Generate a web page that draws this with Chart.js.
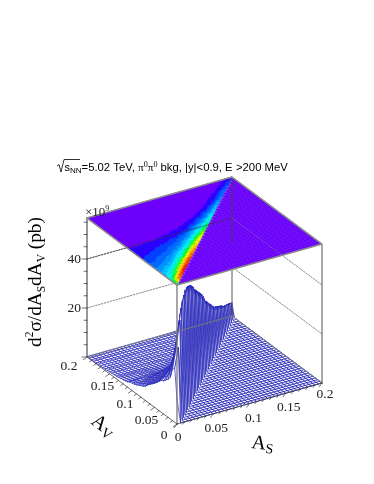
<!DOCTYPE html>
<html><head><meta charset="utf-8">
<style>html,body{margin:0;padding:0;background:#fff}#w{width:374px;height:484px}canvas{display:block}</style>
<script src="https://cdn.jsdelivr.net/npm/chart.js@4"></script>
</head><body><div id="w"><canvas id="c" width="374" height="484"></canvas></div>
<script>
const asTicks=[0,0.05,0.1,0.15,0.2];
const avTicks=[0,0.05,0.1,0.15,0.2];
const asTickLabels=['0','0.05','0.1','0.15','0.2'];
const avTickLabels=['0','0.05','0.1','0.15','0.2'];
const zTicks=[20,40];
const zTickLabels=['20','40'];
const binStep=0.005;
const binCount=40;
const zTop=56.7;
const bandHues=[266,250,224,214,204,194,184,174,158,135,105,80,62,52,42,32,22,12,4,0];
// each row: Av = rowIndex*binStep; values start at As=Av and walk toward As=0 (units of 1e9 pb)
const zRows=[
[10],
[30,22],
[40,29,21],
[44,34,24,17],
[46,37,27,20,15.5],
[47,39,29,22,17,14.5],
[48,40,30,23,18,15,13.5],
[48,40,31,24,19,16,14,13],
[47.5,40,31,24,19,16,14,12.8,12],
[46.5,39,31,24,19,16,13.8,12.4,11.4,10.8],
[45.5,38,30,24,19,15.5,13.4,12,11,10.4,9.8],
[44,37,30,24,19,15.5,13.2,11.6,10.6,9.9,9.3,8.9],
[42.5,36,29,23,18.5,15,12.8,11.2,10.2,9.4,8.8,8.3,8],
[40.5,34.5,28,22.5,18,14.7,12.4,10.9,9.8,9,8.4,7.9,7.5,7.1],
[39,33,27,22,17.5,14.3,12,10.5,9.4,8.6,8,7.5,7,6.6,5.8],
[37.5,32,26,21,17,13.8,11.6,10.1,9,8.2,7.6,7.1,6.6,6.2,5.6,5.2],
[36,30.5,25,20,16,13,11,9.6,8.6,7.8,7.2,6.7,6.3,5.9,5.4,5,4.7],
[34.5,29,24,19,15.5,12.6,10.6,9.2,8.2,7.4,6.8,6.3,5.9,5.5,5.1,4.7,4.4,4.2],
[33,27.5,23,18,14.5,12,10,8.7,7.8,7,6.4,6,5.6,5.2,4.8,4.4,4.1,3.9,3.7],
[31,26,21.5,17,13.8,11.3,9.5,8.2,7.3,6.6,6,5.5,5.1,4.7,4.3,4,3.7,3.5,3.4,3.3],
[29,24.5,20,16,13,10.6,9,7.7,6.8,6.1,5.4,4.9,4.4,4,3.7,3.5,3.3,3.2,3.1,3,3],
[27,22.5,18.5,15,12,9.6,7.9,6.6,5.6,4.8,4.2,3.8,3.5,3.3,3.1,3,2.9,2.9,2.9,2.8,2.8,2.8],
[25.5,21,17,13.5,10.8,8.6,7,5.8,4.8,4.1,3.6,3.2,2.9,2.7,2.6,2.5,2.4,2.4,2.3,2.3,2.2,2.2,2.2],
[24,19.5,15.5,12.3,9.7,7.6,6,4.8,3.9,3.3,2.9,2.6,2.4,2.3,2.2,2.1,2.1,2,2,2,1.9,1.9,1.9,1.9],
[22.5,18,14,11,8.5,6.5,5,3.9,3.1,2.7,2.4,2.2,2.1,2,1.9,1.9,1.8,1.8,1.8,1.8,1.7,1.7,1.7,1.7,1.7],
[21,16.5,12.8,9.8,7.4,5.5,4.2,3.2,2.6,2.2,2,1.9,1.8,1.7,1.7,1.6,1.6,1.6,1.6,1.5,1.5,1.5,1.5,1.5,1.5,1.5],
[19.5,15,11.5,8.7,6.4,4.7,3.4,2.6,2.1,1.8,1.7,1.6,1.5,1.5,1.4,1.4,1.4,1.4,1.3,1.3,1.3,1.3,1.3,1.3,1.3,1.3,1.3],
[18,13.8,10.3,7.6,5.5,3.9,2.8,2.1,1.8,1.6,1.5,1.4,1.3,1.3,1.2,1.2,1.2,1.2,1.2,1.1,1.1,1.1,1.1,1.1,1.1,1.1,1.1,1.1],
[17,12.5,9.2,6.5,4.6,3.2,2.3,1.8,1.5,1.4,1.3,1.2,1.2,1.1,1.1,1.1,1.1,1,1,1,1,1,1,1,1,1,1,1,1],
[16,11.5,8.2,5.7,3.9,2.6,1.9,1.5,1.3,1.2,1.1,1.1,1,1,1,.9,.9,.9,.9,.9,.9,.9,.9,.9,.9,.9,.9,.9,.9,.9],
[15,10.5,7.3,4.9,3.2,2.1,1.5,1.3,1.1,1,1,.9,.9,.9,.8,.8,.8,.8,.8,.8,.8,.8,.8,.8,.8,.8,.8,.8,.8,.8,.8],
[14,9.5,6.4,4.2,2.7,1.8,1.3,1.1,1,.9,.9,.8,.8,.8,.8,.7,.7,.7,.7,.7,.7,.7,.7,.7,.7,.7,.7,.7,.7,.7,.7,.7],
[13,8.7,5.7,3.7,2.4,1.6,1.2,1,.9,.8,.8,.7,.7,.7,.7,.7,.6,.6,.6,.6,.6,.6,.6,.6,.6,.6,.6,.6,.6,.6,.6,.6,.6],
[11.8,8,5.2,3.3,2.2,1.4,1.1,.9,.8,.7,.7,.7,.6,.6,.6,.6,.6,.6,.5,.5,.5,.5,.5,.5,.5,.5,.5,.5,.5,.5,.5,.5,.5,.5],
[10.6,7.3,4.8,3.1,2,1.3,1,.8,.7,.7,.6,.6,.6,.6,.5,.5,.5,.5,.5,.5,.5,.5,.5,.5,.5,.5,.5,.5,.5,.5,.5,.5,.5,.5,.5],
[9.8,6.7,4.4,2.9,1.9,1.2,.9,.8,.7,.6,.6,.6,.5,.5,.5,.5,.5,.4,.4,.4,.4,.4,.4,.4,.4,.4,.4,.4,.4,.4,.4,.4,.4,.4,.4,.4],
[9,6.2,4.2,2.8,1.8,1.2,.9,.7,.6,.6,.5,.5,.5,.5,.4,.4,.4,.4,.4,.4,.4,.4,.3,.3,.3,.3,.3,.3,.3,.3,.3,.3,.3,.3,.3,.3,.3],
[8.2,5.6,3.8,2.4,1.5,1,.8,.6,.6,.5,.5,.5,.4,.4,.4,.4,.4,.3,.3,.3,.3,.3,.3,.3,.3,.3,.3,.3,.3,.3,.3,.3,.3,.3,.3,.3,.3,.3],
[7.4,5,3.3,2.1,1.3,.9,.7,.6,.5,.5,.4,.4,.4,.4,.3,.3,.3,.3,.3,.3,.3,.3,.3,.3,.3,.3,.3,.2,.2,.2,.2,.2,.2,.2,.2,.2,.2,.2,.2],
[6.4,4.2,2.8,1.7,1.1,.8,.6,.5,.5,.4,.4,.4,.3,.3,.3,.3,.3,.3,.3,.3,.2,.2,.2,.2,.2,.2,.2,.2,.2,.2,.2,.2,.2,.2,.2,.2,.2,.2,.2,.2],
[5.5,3.6,2.3,1.5,1,.7,.6,.5,.4,.4,.4,.3,.3,.3,.3,.3,.3,.2,.2,.2,.2,.2,.2,.2,.2,.2,.2,.2,.2,.2,.2,.2,.2,.2,.2,.2,.2,.2,.2,.2,.2]
];
function project(as,av,z){return {x:177+as*725-av*450,y:424-as*205-av*335-z*2.45};}
function zAt(rowI,colJ){
  if(rowI>binCount||colJ>binCount)return 0;
  const d=rowI-colJ; if(d<0)return 0;
  return zRows[rowI][d];
}
function bandColor(z){
  const n=Math.min(bandHues.length-1,Math.floor(z/2.5));
  return 'hsl('+bandHues[n]+',100%,'+(n==0?'49':'50')+'%)';
}
const paint=[];
function line(pts,color,width,dash){paint.push({data:pts,showLine:true,borderColor:color,borderWidth:width,borderDash:dash||[],pointRadius:0,fill:false,tension:0});}
function poly(pts,fillC,stroke,width){paint.push({data:pts.concat([pts[0]]),showLine:true,borderColor:stroke,borderWidth:width,backgroundColor:fillC,pointRadius:0,fill:'shape',tension:0});}
const P=project;
zTicks.forEach(v=>{
  line([P(0,0.2,v),P(0.2,0.2,v),P(0.2,0,v)],'#555',0.7,[1.5,1.5]);
});
const MESH='#1c1cb6', MW=0.85, WALL='#2424b8', WW=0.7;
for(let i=0;i<=binCount;i++){
  if(i+2<=binCount) line([P((i+2)*binStep,i*binStep,0),P(binCount*binStep,i*binStep,0)],MESH,MW);
  if(i>=2) line([P(i*binStep,0,0),P(i*binStep,(i-2)*binStep,0)],MESH,MW);
}
const cells=[];
for(let i=0;i<binCount;i++)for(let j=Math.max(0,i-0);j<=Math.min(binCount-1,i+1);j++)cells.push([i,j]);
for(let i=0;i<binCount;i++)for(let j=0;j<i;j++)cells.push([i,j]);
cells.sort((a,b)=>(b[0]+b[1])-(a[0]+a[1]));
cells.forEach(([i,j])=>{
  const a=i*binStep,a2=(i+1)*binStep,s=j*binStep,s2=(j+1)*binStep;
  poly([P(s,a,zAt(i,j)),P(s2,a,zAt(i,j+1)),P(s2,a2,zAt(i+1,j+1)),P(s,a2,zAt(i+1,j))],'#fff',WALL,WW);
});
line([P(0.2,0.2,0),P(0.2,0.2,zTop)],'#444',0.9);
line([P(0.2,0,0),P(0.2,0,zTop)],'#555',1);
line([P(0,0.2,0),P(0,0.2,zTop)],'#333',1);
line([P(0,0,0),P(0,0,zTop)],'#777',1.3);
line([P(0,0.2,0),P(0.2,0.2,0),P(0.2,0,0)],'#777',1);
line([P(0,0,0),P(0.2,0,0)],'#444',0.8);
line([P(0,0,0),P(0,0.2,0)],'#444',0.8);
// coloured map: left half solid, right half bin by bin so faint seams remain
const base=bandColor(0);
poly([P(0,0,zTop),P(0.2,0,zTop),P(0.2,0.2,zTop),P(0,0.2,zTop)],'#8452f2','#8452f2',0.2);
poly([P(0,0,zTop),P(0.2,0.2,zTop),P(0,0.2,zTop)],base,base,0.5);
for(let i=0;i<binCount;i++)for(let j=i+1;j<binCount;j++){
  const a=i*binStep,a2=(i+1)*binStep,s=j*binStep,s2=(j+1)*binStep;
  poly([P(s,a,zTop),P(s2,a,zTop),P(s2,a2,zTop),P(s,a2,zTop)],base,'rgba(0,0,0,0)',0);
}
function meanNonZero(list){const v=list.filter(q=>q>0);return v.length?v.reduce((p,q)=>p+q,0)/v.length:0;}
for(let i=0;i<binCount;i++)for(let j=0;j<=i;j++){
  const a=i*binStep,a2=(i+1)*binStep,s=j*binStep,s2=(j+1)*binStep;
  const upper=meanNonZero([zAt(i,j),zAt(i+1,j+1),zAt(i+1,j)]);
  if(upper>=2.5){const c=bandColor(upper);poly([P(s,a,zTop),P(s2,a2,zTop),P(s,a2,zTop)],c,c,0.5);}
  if(j<i){
    const lower=meanNonZero([zAt(i,j),zAt(i,j+1),zAt(i+1,j+1)]);
    if(lower>=2.5){const c=bandColor(lower);poly([P(s,a,zTop),P(s2,a,zTop),P(s2,a2,zTop)],c,c,0.5);}
  }
}
line([P(0,0.2,40),P(0.2,0.2,40)],'#333',0.7,[1.5,1.5]);
line([P(0.2,0.2,40),P(0.2,0.09,40)],'#8070c0',0.6,[1.5,1.5]);
line([P(0.2,0.2,30),P(0.2,0.2,zTop)],'#444',0.9);
line([P(0,0,zTop),P(0.2,0,zTop),P(0.2,0.2,zTop),P(0,0.2,zTop),P(0,0,zTop)],'#8a8a8a',1.5);
function tickSeg(a,b){line([a,b],'#333',0.7);}
for(let k=0;k<=zTop;k+=5){const p=P(0,0.2,k);tickSeg(p,{x:p.x+(k%20==0?-5:-3),y:p.y});}
for(let k=0;k<=20;k++){const as=k*0.01,p=P(as,0,0),m=k%5==0?5:3;tickSeg(p,{x:p.x-m*0.55,y:p.y+m*0.75});
  const q=P(0,as,0);tickSeg(q,{x:q.x-m*0.75,y:q.y+m*0.55});}

const textPlugin={id:'txt',afterDraw(chart){
  const ctx=chart.ctx;ctx.save();ctx.fillStyle='#000';ctx.textBaseline='alphabetic';
  const serif='"Liberation Serif"',sans='"Liberation Sans"';
  function runs(x,y,list){list.forEach(r=>{ctx.font=r[1]+'px '+(r[3]||sans);ctx.fillText(r[0],x,y+(r[2]||0));x+=ctx.measureText(r[0]).width;});return x;}
  ctx.strokeStyle='#000';ctx.lineWidth=0.8;
  ctx.beginPath();ctx.moveTo(57,166);ctx.lineTo(59,164.5);ctx.lineTo(61,172);ctx.lineTo(64,159.5);ctx.lineTo(80,159.5);ctx.stroke();
  runs(64.5,170.5,[['s',11],['NN',8,2],['=5.02 TeV, ',11.3],['π',11.3,0,serif],['0',8,-4,serif],['π',11.3,0,serif],['0',8,-4,serif],[' bkg, |y|<0.9, E',11.3],['  ',6],['>200 MeV',11.3]]);
  ctx.font='13.5px '+serif;ctx.textAlign='center';ctx.fillStyle='#222';
  const asOff=[[1,17],[3,18],[4,18],[3,18],[3,15]];
  asTicks.forEach((v,k)=>{const p=P(v,0,0);ctx.fillText(asTickLabels[k],p.x+asOff[k][0],p.y+asOff[k][1]);});
  const avOff=[[-13,15],[-8,17],[-7,17],[-7,16],[-18,13]];
  avTicks.forEach((v,k)=>{const p=P(0,v,0);ctx.fillText(avTickLabels[k],p.x+avOff[k][0],p.y+avOff[k][1]);});
  ctx.textAlign='right';
  zTicks.forEach((v,k)=>{const p=P(0,0.2,v);ctx.fillText(zTickLabels[k],p.x-6,p.y+4);});
  ctx.textAlign='left';
  runs(85,216,[['×10',13,0,serif],['9',8,-5,serif]]);
  ctx.save();ctx.translate(41,347);ctx.rotate(-Math.PI/2);ctx.fillStyle='#000';
  runs(0,0,[['d',19.3,0,serif],['2',11.5,-8,serif],['σ/dA',19.3,0,serif],['S',11.5,4,serif],['dA',19.3,0,serif],['V',11.5,4,serif],[' (pb)',19.3,0,serif]]);
  ctx.restore();
  ctx.save();ctx.translate(251,448);ctx.rotate(0.12);ctx.fillStyle='#000';
  runs(0,0,[['A',20,0,serif],['S',14,3,serif]]);ctx.restore();
  ctx.save();ctx.translate(90,423);ctx.rotate(0.65);ctx.fillStyle='#000';
  runs(0,0,[['A',20,0,serif],['V',14,3,serif]]);ctx.restore();
  ctx.restore();
}};
new Chart(document.getElementById('c'),{
  type:'scatter',
  data:{datasets:paint.slice().reverse()},
  options:{responsive:false,animation:false,events:[],parsing:false,normalized:true,
    layout:{padding:0},
    elements:{line:{borderCapStyle:'round',borderJoinStyle:'round',capBezierPoints:false}},
    plugins:{legend:{display:false},tooltip:{enabled:false},title:{display:false}},
    scales:{
      x:{type:'linear',min:0,max:374,display:false,grid:{display:false}},
      y:{type:'linear',min:0,max:484,reverse:true,display:false,grid:{display:false}}
    }},
  plugins:[textPlugin]
});
</script></body></html>
